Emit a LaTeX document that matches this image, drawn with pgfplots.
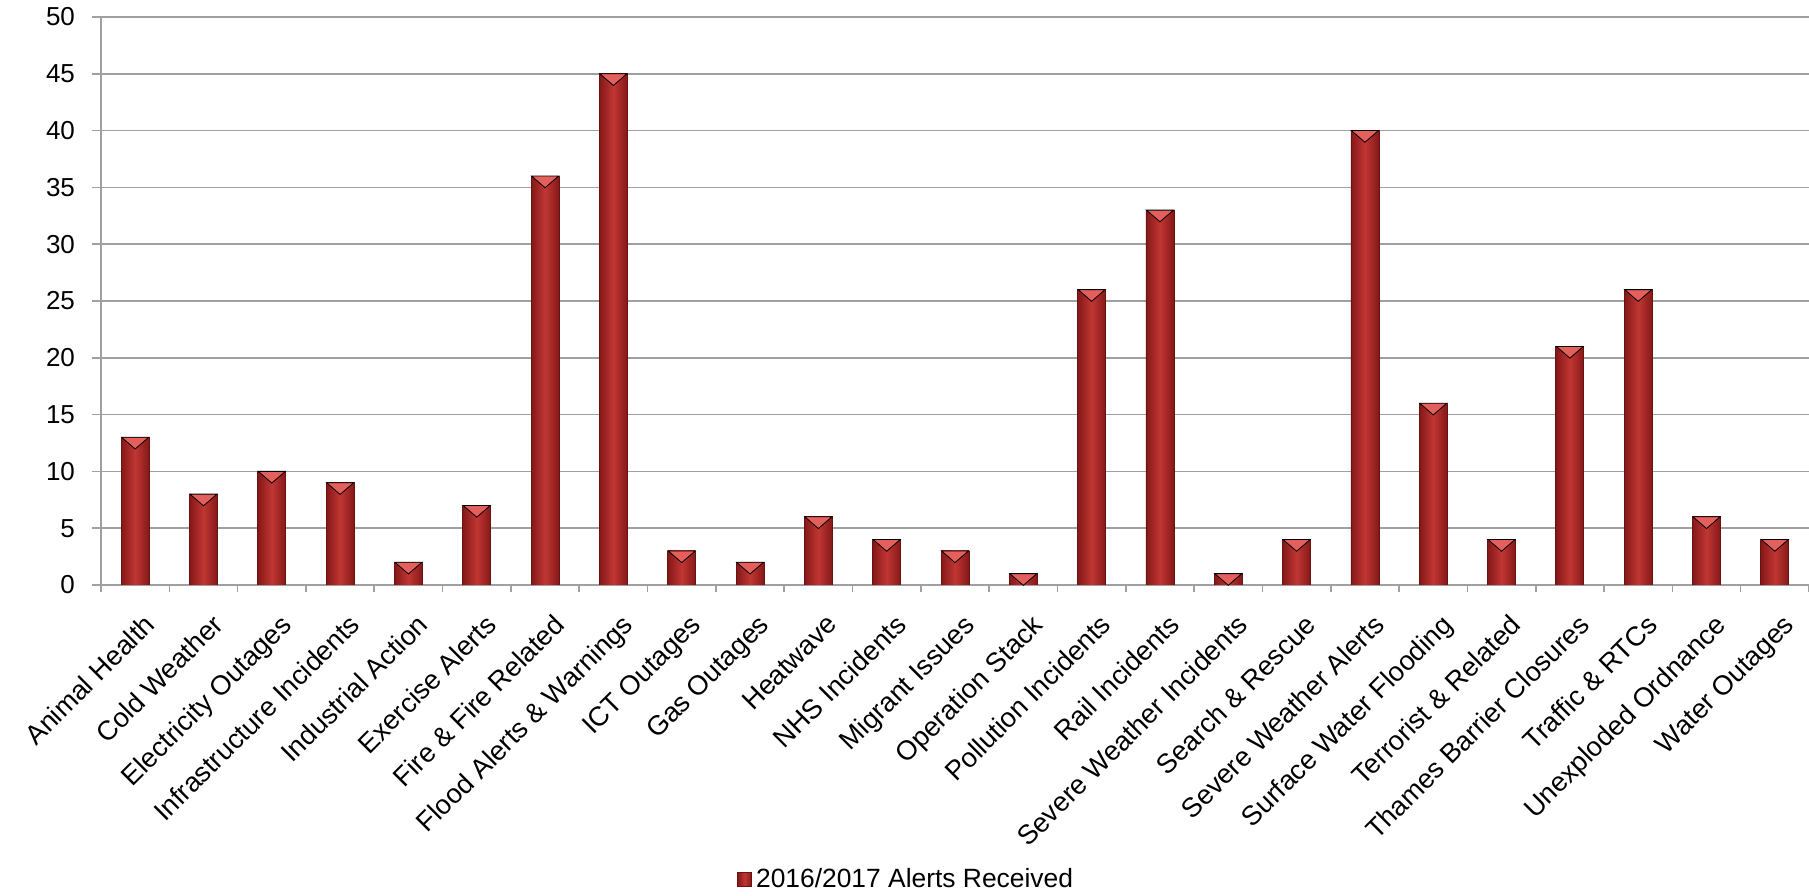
\documentclass[border=0pt]{standalone}
\usepackage{pgfplots}
\pgfplotsset{compat=1.18}
\usepackage{pgfplotstable}
\usepackage{fontspec}
\setmainfont{Liberation Sans}

\definecolor{bardark}{RGB}{132,24,24}
\definecolor{barlight}{RGB}{192,54,51}
\definecolor{baredge}{RGB}{105,18,18}
\definecolor{bevel}{RGB}{228,96,92}
\definecolor{gridgray}{RGB}{160,160,160}

% alerts received per category, 2016/2017
\pgfplotstableread{
x y
0 13
1 8
2 10
3 9
4 2
5 7
6 36
7 45
8 3
9 2
10 6
11 4
12 3
13 1
14 26
15 33
16 1
17 4
18 40
19 16
20 4
21 21
22 26
23 6
24 4
}\alerts

\tikzset{
    barstyle/.style={draw=baredge, line width=0.4pt, left color=bardark,
        right color=bardark, middle color=barlight},
}

\begin{document}
\begin{tikzpicture}
\begin{axis}[
    name=ax,
    scale only axis,
    width=854pt, height=284pt,
    xmin=-0.5, xmax=24.5,
    ymin=0, ymax=50,
    ytick={0,5,...,50},
    ymajorgrids,
    grid style={gridgray, line width=0.8pt},
    axis lines=left,
    axis line style={-, gridgray, line width=0.8pt},
    bar width=0.41,
    bar shift=0pt,
    xtick={0,...,24},
    xticklabels={Animal Health, Cold Weather, Electricity Outages,
        Infrastructure Incidents, Industrial Action, Exercise Alerts,
        Fire \& Fire Related, Flood Alerts \& Warnings, ICT Outages,
        Gas Outages, Heatwave, NHS Incidents, Migrant Issues,
        Operation Stack, Pollution Incidents, Rail Incidents,
        Severe Weather Incidents, Search \& Rescue, Severe Weather Alerts,
        Surface Water Flooding, Terrorist \& Related,
        Thames Barrier Closures, Traffic \& RTCs, Unexploded Ordnance,
        Water Outages},
    minor xtick={-0.5,0.5,...,24.5},
    tick align=outside,
    major tick length=4.5pt,
    minor tick length=3.5pt,
    major x tick style={draw=none},
    minor x tick style={gridgray, line width=0.8pt},
    y tick style={gridgray, line width=0.8pt},
    /pgf/number format/assume math mode=true,
    yticklabel style={font=\fontsize{13}{15}\selectfont, xshift=-5pt},
    xticklabel style={font=\fontsize{13.6}{15}\selectfont, rotate=45,
        anchor=north east, inner sep=1pt, yshift=-8pt, xshift=-3pt},
    legend style={at={(0.472,-0.519)}, anchor=center, draw=none,
        font=\fontsize{13.2}{15}\selectfont},
    legend image code/.code={
        \path[barstyle] (0pt,-3.5pt) rectangle (7pt,3.5pt);},
]
% one path per bar, so that each bar gets its own shading
\pgfplotsinvokeforeach{0,...,24}{
    \addplot[ybar, barstyle, forget plot,
        x filter/.expression={x==#1 ? x : nan}] table[x=x, y=y] {\alerts};
}
% light bevel on the top of each bar
\addplot[only marks, mark=triangle*, mark size=7.8pt, forget plot,
    mark options={fill=bevel, draw=none, yshift=-1.95pt, yscale=-0.5}]
    table[x=x, y=y] {\alerts};
\addlegendimage{barstyle}
\addlegendentry{2016/2017 Alerts Received}
\end{axis}
\pgfresetboundingbox
\path[use as bounding box] ([shift={(-50.5pt,-155.5pt)}]ax.south west)
    rectangle ([shift={(0pt,8.5pt)}]ax.north east);
\end{tikzpicture}
\end{document}
